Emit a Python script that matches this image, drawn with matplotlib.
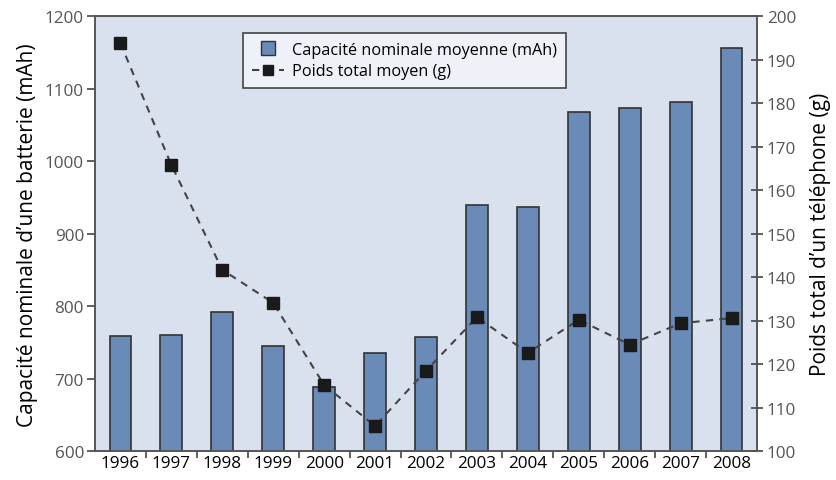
import numpy as np
import matplotlib.pyplot as plt
from matplotlib.lines import Line2D

plt.rcParams['font.family'] = ['Open Sans', 'DejaVu Sans']

# Data
years = ['1996', '1997', '1998', '1999', '2000', '2001', '2002',
         '2003', '2004', '2005', '2006', '2007', '2008']
capacity = [759, 760, 792, 745, 689, 735, 758, 940, 937, 1068, 1074, 1082, 1156]
weight = [193.8, 165.8, 141.7, 134.1, 115.2, 105.8, 118.5,
          130.8, 122.6, 130.2, 124.5, 129.4, 130.6]

bar_color = '#6a8ab8'
bg_color = '#dae1ee'
tick_color = '#555555'
dash = (0, (3.5, 3))

x = np.arange(len(years))

fig, ax1 = plt.subplots(figsize=(8.37, 4.81), dpi=100)
fig.subplots_adjust(left=0.1135, right=0.9044, top=0.964, bottom=0.06)
ax1.set_facecolor(bg_color)

ax1.bar(x, capacity, width=0.43, color=bar_color, edgecolor='#333333', linewidth=1.2, zorder=2)
ax1.set_xlim(-0.5, len(years) - 0.5)
ax1.set_ylim(600, 1200)
ax1.set_yticks(range(600, 1201, 100))
ax1.set_ylabel("Capacité nominale d\u2019une batterie (mAh)", fontsize=15, labelpad=5)

# x ticks sit between the bars, labels under the bars
ax1.set_xticks(x[:-1] + 0.5)
ax1.set_xticklabels([])
ax1.set_xticks(x, minor=True)
ax1.set_xticklabels(years, minor=True, fontsize=12.3)
ax1.tick_params(axis='x', which='minor', length=0, pad=3)
ax1.tick_params(axis='x', which='major', direction='out', length=5, width=1.2, color='#444444')
ax1.tick_params(axis='y', direction='out', length=6, width=1.2, color='#444444',
                labelcolor=tick_color, labelsize=12.3, pad=2)

ax2 = ax1.twinx()
ax2.plot(x, weight, linestyle=dash, color='#444444', linewidth=1.5,
         marker='s', markersize=8, markerfacecolor='#1a1a1a', markeredgecolor='#1a1a1a', zorder=3)
ax2.set_ylim(100, 200)
ax2.set_yticks(range(100, 201, 10))
ax2.set_ylabel("Poids total d\u2019un téléphone (g)", fontsize=15, labelpad=10)
ax2.tick_params(axis='y', direction='inout', length=8, width=1.2, color='#444444',
                labelcolor=tick_color, labelsize=12.3, pad=3)

for ax in (ax1, ax2):
    for s in ax.spines.values():
        s.set_color('#555555')
        s.set_linewidth(1.2)

handles = [Line2D([0], [0], linestyle='none', marker='s', markersize=10,
                  markerfacecolor=bar_color, markeredgecolor='#333333'),
           Line2D([0], [0], linestyle=dash, color='#444444', linewidth=1.5,
                  marker='s', markersize=7, markerfacecolor='#1a1a1a', markeredgecolor='#1a1a1a')]
labels = ['Capacité nominale moyenne (mAh)', 'Poids total moyen (g)']
leg = ax2.legend(handles, labels, loc='upper left', bbox_to_anchor=(0.223, 0.962),
                 fontsize=11.7, frameon=True, fancybox=False, framealpha=1,
                 handlelength=2.0, handletextpad=0.5, borderpad=0.55, labelspacing=0.35,
                 borderaxespad=0)
leg.get_frame().set_facecolor('#eef1f7')
leg.get_frame().set_edgecolor('#444444')
leg.get_frame().set_linewidth(1.2)

plt.savefig('out.png', dpi=100)
